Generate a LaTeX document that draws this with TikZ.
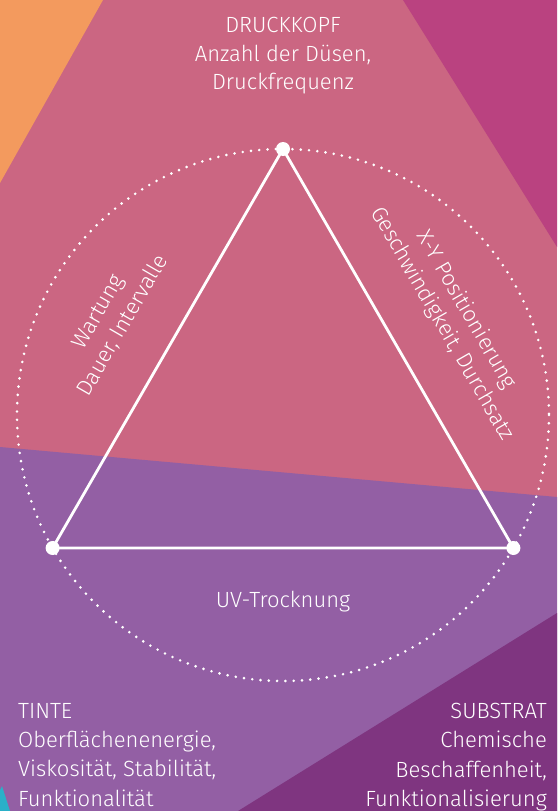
\documentclass[tikz,border=0pt]{standalone}
\usepackage{fontspec}
\IfFontExistsTF{Fira Sans Light}{\setmainfont{Fira Sans Light}}{\setmainfont{Fira Sans}}
\begin{document}
\begin{tikzpicture}[x=1pt,y=-1pt,
  lbl/.style={text=white,inner sep=0pt,font=\fontsize{22}{28.5}\selectfont},
  vdot/.style={circle,fill=white,inner sep=0pt,minimum size=14pt},
  edge/.style={draw=white,line width=2.8pt}]
\definecolor{cpink}{RGB}{203,102,130}
\definecolor{corange}{RGB}{243,154,94}
\definecolor{cmagenta}{RGB}{186,66,128}
\definecolor{cpurple}{RGB}{147,95,164}
\definecolor{cdpurple}{RGB}{127,53,128}
\definecolor{cteal}{RGB}{42,176,200}
\useasboundingbox (0,0) rectangle (557,811);
% background
\fill[cpink] (0,0) rectangle (557,811);
\fill[corange] (0,0) -- (103,0) -- (0,183) -- cycle;
\fill[cmagenta] (403,0) -- (557,0) -- (557,247) -- cycle;
\fill[cpurple] (0,447) -- (557,497) -- (557,811) -- (0,811) -- cycle;
\fill[cdpurple] (557,613) -- (557,811) -- (238,811) -- cycle;
\fill[cteal] (0,790) -- (2,786) -- (10,811) -- (0,811) -- cycle;
% dotted circle
\coordinate (ctr) at (283,415);
\draw[white,line width=2.9pt,line cap=round,dash pattern=on 0pt off 8.31pt] (ctr) circle[radius=266];
% vertices
\node[vdot] (top) at (283,149) {};
\node[vdot] (bl) at (52.6,548) {};
\node[vdot] (br) at (513.4,548) {};
\draw[edge] (top.center) -- (bl.center) -- (br.center) -- cycle;
% labels
\node[lbl,align=center] (druck) at (283,56) {DRUCKKOPF\\Anzahl der Düsen,\\Druckfrequenz};
\node[lbl,align=center,rotate=60,font=\fontsize{22}{28}\selectfont] (wart) at (111,319) {Wartung\\Dauer, Intervalle};
\node[lbl,align=center,rotate=-60,font=\fontsize{22}{28}\selectfont] (xy) at (454,317) {X-Y Positionierung\\Geschwindigkeit, Durchsatz};
\node[lbl,anchor=base] (uv) at (283,607) {UV-Trocknung};
\node[lbl,align=left,anchor=north west,font=\fontsize{22}{29.3}\selectfont] (tinte) at (18,703) {TINTE\\Oberflächenenergie,\\Viskosität, Stabilität,\\Funktionalität};
\node[lbl,align=right,anchor=north east,font=\fontsize{22}{29.3}\selectfont] (subst) at (547,703) {SUBSTRAT\\Chemische\\Beschaffenheit,\\Funktionalisierung};
\end{tikzpicture}
\end{document}
